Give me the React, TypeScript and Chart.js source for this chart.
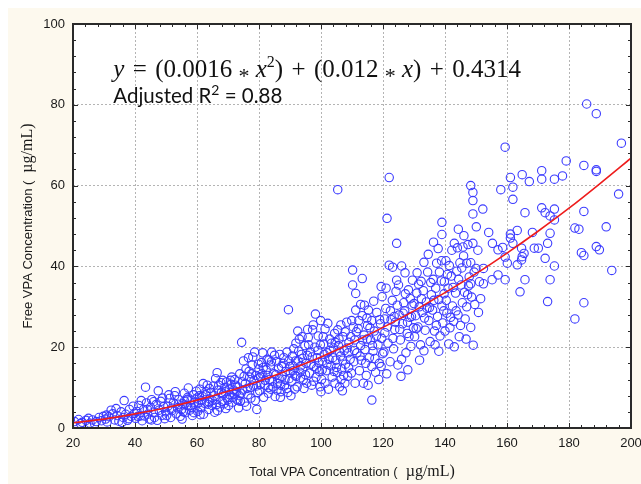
import React, { useEffect, useRef } from "react";
import { Chart, registerables } from "chart.js";
Chart.register(...registerables);

// axis settings
const xMin = 20, xMax = 200, xStep = 20;
const yMin = 0, yMax = 100, yStep = 20;
const minorStep = 4;

// fitted curve
const curveX = [20, 30, 40, 50, 60, 70, 80, 90, 100, 110, 120, 130, 140, 150, 160, 170, 180, 190, 200];
const curveY = [1.3, 2.2, 3.5, 5.0, 6.9, 9.1, 11.6, 14.5, 17.6, 21.1, 24.9, 29.0, 33.5, 38.2, 43.3, 48.7, 54.4, 60.5, 66.8];

// observations [total, free]
const ptsA: number[][] = [
  [20.5,1.6],[21.8,2.1],[23,1.4],[24.2,1.9],[25.5,1.2],[26.3,2.0],[27.5,1.6],[28.4,2.6],[29.2,1.8],[22.4,1.1],[25,2.4],[27,1.0],[29.8,2.9],[30.5,2.2],
  [31,1.5],[31.6,2.8],[32.3,4.4],[32.8,3.5],[33.5,2.0],[34.2,3.1],[34.8,1.7],[35.5,4.0],[36.2,2.6],[36.5,6.8],[37,3.4],[37.6,1.9],[38.2,4.6],[38.8,2.9],[39.4,5.4],[39.8,3.6],[33.9,4.8],[35.8,1.4],[30.8,3.2],[37.9,2.3],
  [40.2,2.4],[40.6,4.1],[41.2,5.6],[41.8,3.0],[42.3,1.8],[42.8,4.6],[43.4,10.1],[43.7,6.2],[44.1,3.4],[44.6,2.2],[45.0,5.1],[45.4,7.0],[45.9,3.9],[46.3,2.6],[46.8,5.8],[47.2,1.9],[47.5,9.2],[47.8,4.4],[48.3,6.6],[48.7,3.1],[49.2,5.3],[49.6,2.3],[44.0,4.6],[46.0,6.5],[41.0,2.9],[43.0,3.0],[48.9,7.4],[49.9,4.0],[45.3,2.0],[42.0,6.8],
];
const ptsB: number[][] = [
  [50.2,3.1],[50.6,5.4],[51.1,7.3],[51.5,2.6],[51.9,4.3],[52.4,6.2],[52.8,8.0],[53.3,3.5],[53.7,5.0],[54.1,7.0],[54.6,2.9],[55.0,4.6],[55.4,6.0],[55.9,8.6],[56.3,3.8],[56.7,5.6],[57.2,9.9],[57.6,4.4],[58.1,6.9],[58.5,3.1],[58.9,8.2],[59.4,5.2],[59.8,9.1],[50.9,8.2],[53.0,9.0],[55.2,2.2],[57.0,7.6],[59.0,3.8],[52.0,4.9],[56.0,6.7],[54.0,5.9],[58.3,5.0],
  [60.2,4.1],[60.5,6.3],[60.9,9.6],[61.3,5.0],[61.7,7.8],[62.1,3.4],[62.5,6.1],[62.9,9.0],[63.3,10.6],[63.7,4.6],[64.1,7.2],[64.5,8.8],[64.9,5.6],[65.3,10.4],[65.7,3.9],[66.1,7.0],[66.5,13.7],[66.9,9.4],[67.3,5.2],[67.7,11.2],[68.1,6.6],[68.5,8.4],[68.9,10.0],[69.3,4.8],[69.7,7.4],[60.8,8.0],[62.0,11.0],[63.5,5.9],[65.0,6.8],[66.6,4.3],[67.0,10.6],[68.7,6.0],[69.5,11.4],[64.0,9.8],[61.0,3.3],[66.0,12.2],
];
const ptsC: number[][] = [
  [70.2,5.6],[70.6,8.2],[71.0,10.8],[71.4,6.4],[71.8,9.4],[72.2,12.0],[72.6,7.2],[73.0,10.2],[73.4,5.0],[73.8,13.4],[74.2,8.6],[74.4,21.2],[74.6,11.4],[75.0,16.6],[75.4,6.4],[75.8,14.6],[76.2,9.8],[76.6,17.4],[77.0,12.6],[77.4,7.4],[77.8,15.6],[78.2,10.4],[78.6,18.8],[79.0,13.0],[79.3,4.6],[79.6,8.8],[75.2,12.8],[76.0,5.4],[77.2,10.0],[78.0,17.6],[79.8,15.8],[70.8,11.8],[72.8,9.0],[74.0,6.6],[76.8,14.0],[78.8,6.8],[71.6,7.6],[73.6,8.0],
  [80.2,9.2],[80.5,12.6],[80.8,16.2],[81.2,18.6],[81.5,7.6],[81.9,10.6],[82.3,14.4],[82.6,17.0],[83.0,8.6],[83.4,12.0],[83.7,15.6],[84.1,18.8],[84.5,10.2],[84.8,13.4],[85.2,7.8],[85.6,16.4],[86.0,11.0],[86.3,14.8],[86.7,18.2],[87.1,9.0],[87.5,12.8],[87.8,16.0],[88.2,10.4],[88.6,14.0],[89.0,18.8],[89.5,29.3],[89.3,8.8],[89.7,12.2],[80.0,14.6],[82.0,11.8],[83.8,9.6],[85.5,13.2],[86.9,7.6],[88.0,17.4],[89.9,15.2],[81.0,13.4],[84.0,16.4],[87.0,10.6],[85.0,18.0],[83.0,10.0],
];
const ptsD: number[][] = [
  [90.3,8.0],[90.6,11.6],[90.9,15.4],[91.2,19.6],[91.6,13.0],[91.9,21.0],[92.3,10.2],[92.6,16.6],[93.0,22.0],[93.4,12.4],[93.7,18.2],[94.1,14.6],[94.5,9.8],[94.8,20.4],[95.2,16.0],[95.4,11.1],[95.9,22.4],[96.3,13.6],[96.6,18.8],[97.0,10.6],[97.3,24.3],[97.5,25.5],[97.7,15.2],[98.0,20.0],[98.2,28.2],[98.4,12.6],[98.8,17.4],[99.1,22.8],[99.5,14.0],[99.9,26.6],[99.7,10.2],[90.8,17.8],[92.0,12.8],[93.5,15.4],[95.0,13.2],[96.0,20.6],[97.6,11.6],[99.0,19.2],[94.0,17.2],[91.5,9.6],
  [100.2,12.0],[100.5,16.6],[100.9,20.8],[101.3,24.5],[101.3,11.1],[101.7,14.2],[102.2,25.9],[102.0,18.6],[102.4,9.6],[102.8,22.0],[103.2,15.4],[103.6,12.6],[104.0,19.8],[104.5,11.1],[104.4,23.4],[104.8,16.8],[105.2,13.8],[105.4,24.3],[105.6,20.4],[106.0,10.2],[106.4,25.5],[106.3,17.8],[106.7,14.6],[107.1,22.6],[107.7,11.1],[107.5,19.2],[107.9,15.8],[108.3,26.2],[108.6,12.8],[109.0,21.2],[109.4,17.0],[109.9,26.6],[109.8,13.6],[100.7,22.6],[102.6,17.0],[104.2,14.0],[105.9,19.0],[107.3,13.0],[108.8,18.6],[103.4,21.0],[106.9,9.2],[100.0,9.0],[105.4,59.0],
];
const ptsE: number[][] = [
  [110.2,39.1],[110.2,35.4],[111.2,33.3],[113.3,37.0],[116.4,6.9],[111.2,29.2],[113.3,27.8],[115.3,29.2],[116.4,26.6],[116.4,15.2],[111.0,11.1],[113.7,11.1],[119.7,32.5],[119.4,35.0],[110.6,16.4],[110.9,21.8],[111.6,18.6],[112.0,24.6],[112.4,14.2],[112.8,20.4],[113.0,16.8],[113.9,23.0],[114.2,19.4],[114.6,13.0],[115.0,25.4],[115.6,17.4],[116.0,21.8],[116.8,19.0],[117.2,24.0],[117.6,13.8],[118.0,28.6],[118.4,20.6],[118.8,16.0],[119.2,25.8],[119.6,22.2],[119.9,18.4],[114.0,30.4],[117.0,31.4],[112.2,26.6],[115.2,10.6],[118.6,12.0],[110.4,25.0],
  [121.2,13.4],[122.0,40.3],[123.1,39.8],[124.4,36.6],[126.0,40.1],[127.1,38.4],[124.4,45.7],[122.0,62.0],[121.3,51.9],[120.3,18.8],[120.6,23.6],[120.9,29.6],[121.6,21.0],[122.3,16.4],[122.6,26.8],[123.0,31.6],[123.4,19.6],[123.8,24.4],[124.2,33.8],[124.8,15.6],[125.2,28.0],[125.6,21.8],[126.3,25.8],[126.7,31.0],[127.4,18.6],[127.8,23.4],[128.2,34.2],[128.6,27.4],[129.0,20.2],[129.4,30.4],[129.8,24.8],[125.0,35.4],[126.0,17.0],[127.0,29.0],[128.0,14.4],[129.5,36.6],[121.0,34.6],[123.6,27.6],[125.8,12.8],[128.8,32.0],
];
const ptsF: number[][] = [
  [133.2,41.0],[137.3,40.8],[138.9,41.4],[139.0,50.9],[139.0,47.9],[132.3,36.3],[136.2,36.8],[136.3,46.0],[133.2,19.1],[130.2,22.6],[130.5,27.8],[130.9,33.4],[131.3,25.0],[131.7,30.0],[132.1,20.6],[132.6,28.6],[133.0,34.0],[133.6,24.2],[134.0,31.2],[134.4,38.6],[134.8,26.6],[135.2,21.4],[135.6,33.0],[136.0,29.2],[136.6,24.0],[137.0,34.6],[137.6,27.6],[138.0,31.8],[138.4,22.8],[138.8,36.4],[139.3,26.0],[139.7,33.2],[131.0,38.4],[134.6,43.0],[137.8,44.4],[135.0,29.8],[138.0,19.0],[131.8,16.8],[136.8,20.6],[139.6,29.0],
  [140.3,41.4],[141.2,20.8],[143.0,20.1],[143.0,45.7],[144.3,49.2],[144.8,40.9],[146.1,47.6],[147.0,40.8],[148.3,40.9],[148.3,35.7],[148.3,24.9],[148.3,60.0],[149.0,58.3],[149.0,56.3],[149.0,53.0],[149.0,45.7],[149.1,20.5],[140.6,28.4],[141.0,34.6],[141.6,24.8],[142.0,37.6],[142.4,30.2],[142.8,26.4],[143.4,33.4],[143.8,38.8],[144.2,28.0],[144.6,22.6],[145.2,35.4],[145.6,31.0],[146.0,42.6],[146.5,27.0],[147.3,33.0],[147.8,37.4],[149.6,30.6],[146.8,22.0],[142.2,44.0],[140.8,38.0],[145.0,25.4],
];
const ptsG: number[][] = [
  [150.1,49.8],[150.0,39.5],[150.8,28.6],[151.1,36.2],[152.2,54.2],[152.4,39.5],[152.4,35.7],[154.1,48.4],[155.2,36.7],[155.3,45.7],[157.1,37.9],[157.1,44.1],[158.0,59.0],[158.6,44.7],[159.4,69.5],[159.4,42.3],[159.4,36.7],[150.6,44.0],[151.5,32.0],
  [160.1,40.8],[161.1,62.0],[161.1,48.0],[161.1,47.0],[161.9,59.6],[161.9,56.6],[161.9,45.7],[163.3,48.9],[163.3,40.4],[164.2,33.7],[164.7,44.5],[164.7,41.6],[164.9,62.7],[164.9,42.4],[165.5,43.2],[165.8,53.3],[165.8,36.7],[167.2,61.0],[168.2,48.4],[168.8,44.5],
  [170.1,44.5],[171.2,63.7],[171.2,61.6],[171.2,54.5],[172.3,53.3],[172.3,42.0],[173.1,45.7],[173.1,31.3],[173.9,52.5],[173.9,48.2],[173.9,36.7],[175.3,61.6],[175.3,54.2],[175.3,51.5],[175.3,40.1],[177.9,62.4],[179.1,66.1],[181.9,49.5],[181.9,27.0],[183.2,49.2],[184.0,43.4],[184.8,65.0],[184.8,53.6],[184.8,42.7],[184.8,31.0],[185.7,80.2],[188.8,77.8],[188.8,63.9],[188.8,63.5],[188.8,44.9],[189.8,44.1],[192.0,49.8],[193.8,39.0],[196.0,57.9],[196.9,70.5],
];
const ptsH: number[][] = [
  [55.6,4.0],[56.9,7.1],[58.0,5.6],[59.2,6.4],[60.0,7.4],[61.5,6.8],[62.8,8.2],[63.9,6.4],[65.6,8.0],[66.3,5.8],[67.9,8.8],[68.3,11.8],[69.0,9.0],[70.0,7.0],[70.4,9.6],[71.2,12.6],[72.0,8.4],[72.4,10.6],[73.2,6.8],[74.8,9.4],[75.6,11.0],[76.4,8.2],[77.6,13.4],[78.4,11.8],[79.2,10.4],[79.9,12.4],
  [80.4,10.8],[81.4,15.0],[82.8,13.0],[83.2,16.8],[84.3,11.6],[85.8,9.4],[86.5,12.2],[87.3,15.2],[88.4,12.0],[88.9,9.8],[89.6,16.6],[90.1,13.8],[91.0,14.2],[91.8,16.6],[92.8,19.0],[93.2,13.8],[94.3,12.0],[95.6,18.0],[96.8,15.8],[97.2,17.6],[98.6,14.8],[99.3,16.2],[99.8,20.6],[93.9,22.6],[95.7,24.4],[92.5,24.0],
  [100.4,14.4],[101.0,18.2],[101.9,15.8],[102.9,19.2],[103.8,17.4],[104.6,21.2],[105.0,15.0],[105.8,22.0],[106.5,12.0],[107.0,16.8],[107.8,23.8],[108.4,19.8],[108.9,15.0],[109.6,22.6],[110.8,19.2],[111.4,23.8],[112.6,17.8],[113.4,21.8],[114.4,16.0],[114.9,22.0],[115.8,24.8],[116.6,20.4],[117.4,17.2],[117.9,22.8],[118.9,26.8],[119.4,15.2],[112.8,30.6],[114.8,27.2],
  [120.5,27.0],[121.4,25.0],[122.4,29.0],[123.2,22.2],[124.0,26.2],[124.6,30.4],[125.4,24.4],[126.5,28.4],[127.2,33.2],[127.9,26.2],[128.4,22.6],[129.2,27.6],[130.0,30.8],[130.7,24.6],[131.5,35.6],[132.4,32.0],[133.4,27.2],[134.2,29.6],[135.4,36.0],[136.4,31.6],[137.2,25.4],[138.2,38.6],[139.0,30.2],[139.8,36.2],[140.4,31.6],[141.4,40.2],[142.6,34.8],[143.6,29.0],[144.4,36.8],[145.4,39.6],[146.3,33.6],[147.0,30.0],[147.6,35.2],[148.6,32.4],[149.4,38.6],[141.8,27.4],[145.8,44.8],[147.4,45.4],[144.0,44.6],[140.0,24.0],
];

const xTitleMain = "Total VPA Concentration (";
const yTitleMain = "Free VPA Concentration (";
const unitText = "  \u00b5g/mL)";

const SANS = "'Liberation Sans', Arial, sans-serif";
const SERIF = "'Liberation Serif', 'Times New Roman', serif";
const HS = "\u200A";

type Run = { t: string; f: string; dy?: number };

function runsWidth(ctx: CanvasRenderingContext2D, runs: Run[]) {
  let w = 0;
  for (const r of runs) { ctx.font = r.f; w += ctx.measureText(r.t).width; }
  return w;
}
function drawRuns(ctx: CanvasRenderingContext2D, x: number, y: number, runs: Run[]) {
  let cx = x;
  for (const r of runs) {
    ctx.font = r.f;
    ctx.fillText(r.t, cx, y + (r.dy || 0));
    cx += ctx.measureText(r.t).width;
  }
}

export default function App() {
  const ref = useRef<HTMLCanvasElement>(null);
  useEffect(() => {
    const canvas = ref.current!;
    const all = [...ptsA, ...ptsB, ...ptsC, ...ptsD, ...ptsE, ...ptsF, ...ptsG, ...ptsH].map(([x, y]) => ({ x, y }));
    const curve = curveX.map((x, i) => ({ x, y: curveY[i] }));

    const deco = {
      id: "deco",
      beforeDraw(chart: any) {
        const { ctx, chartArea: a } = chart;
        ctx.save();
        ctx.fillStyle = "#ffffff";
        ctx.fillRect(a.left, a.top, a.right - a.left, a.bottom - a.top);
        ctx.restore();
      },
      afterDraw(chart: any) {
        const { ctx, chartArea: a } = chart;
        const xs = chart.scales.x, ys = chart.scales.y;
        ctx.save();
        // frame
        ctx.strokeStyle = "#2a2a2a";
        ctx.lineWidth = 2;
        ctx.strokeRect(a.left, a.top, a.right - a.left, a.bottom - a.top);
        // inward ticks
        ctx.lineWidth = 1;
        ctx.beginPath();
        for (let v = xMin; v <= xMax; v += minorStep) {
          const p = Math.round(xs.getPixelForValue(v)) + 0.5;
          const len = (v - xMin) % xStep === 0 ? 5 : 3;
          ctx.moveTo(p, a.bottom); ctx.lineTo(p, a.bottom - len);
          ctx.moveTo(p, a.top); ctx.lineTo(p, a.top + len);
        }
        for (let v = yMin; v <= yMax; v += minorStep) {
          const p = Math.round(ys.getPixelForValue(v)) + 0.5;
          const len = (v - yMin) % yStep === 0 ? 5 : 3;
          ctx.moveTo(a.left, p); ctx.lineTo(a.left + len, p);
          ctx.moveTo(a.right, p); ctx.lineTo(a.right - len, p);
        }
        ctx.stroke();

        ctx.fillStyle = "#1a1a1a";
        ctx.textBaseline = "alphabetic";
        ctx.textAlign = "left";
        // x title
        const xr: Run[] = [{ t: xTitleMain, f: `13px ${SANS}` }, { t: unitText, f: `16px ${SERIF}` }];
        const xw = runsWidth(ctx, xr);
        drawRuns(ctx, (a.left + a.right) / 2 - xw / 2, 468, xr);
        // y title
        const yr: Run[] = [{ t: yTitleMain, f: `13px ${SANS}` }, { t: unitText, f: `16px ${SERIF}` }];
        const yw = runsWidth(ctx, yr);
        ctx.save();
        ctx.translate(24, (a.top + a.bottom) / 2);
        ctx.rotate(-Math.PI / 2);
        drawRuns(ctx, -yw / 2, 0, yr);
        ctx.restore();

        // equation
        ctx.fillStyle = "#111";
        const ex = xs.getPixelForValue(33);
        const ey = ys.getPixelForValue(86.9);
        const n = `25px ${SERIF}`, it = `italic 25px ${SERIF}`, op = `22px ${SERIF}`;
        drawRuns(ctx, ex, ey, [
          { t: "y", f: it }, { t: ` ${HS}=${HS} (0.0016 `, f: n }, { t: "*", f: op, dy: 6 }, { t: " ", f: n }, { t: "x", f: it }, { t: "2", f: `16px ${SERIF}`, dy: -10 },
          { t: `) ${HS}+${HS} (0.012 `, f: n }, { t: "*", f: op, dy: 6 }, { t: " ", f: n }, { t: "x", f: it }, { t: `) ${HS}+${HS} 0.4314`, f: n },
        ]);
        const rx = xs.getPixelForValue(33);
        const ry = ys.getPixelForValue(80.5);
        drawRuns(ctx, rx, ry, [
          { t: "Adjusted R", f: "20.5px Lato, sans-serif" }, { t: "2", f: "14px Lato, sans-serif", dy: -8 }, { t: " = 0.88", f: "20.5px Lato, sans-serif" },
        ]);
        ctx.restore();
      },
    };

    const chart = new Chart(canvas, {
      type: "scatter",
      data: {
        datasets: [
          {
            type: "line",
            data: curve,
            borderColor: "#ee1c1c",
            borderWidth: 1.6,
            pointRadius: 0,
            fill: false,
            cubicInterpolationMode: "monotone",
            order: 0,
          } as any,
          {
            data: all,
            pointStyle: "circle",
            pointRadius: 4.2,
            borderWidth: 1.1,
            borderColor: "#3b3bff",
            backgroundColor: "rgba(0,0,0,0)",
            order: 1,
          },
        ],
      },
      options: {
        animation: false,
        responsive: false,
        layout: { padding: { left: 0, top: 16, right: 10, bottom: 0 } },
        plugins: { legend: { display: false }, tooltip: { enabled: false } },
        scales: {
          x: {
            type: "linear",
            min: xMin,
            max: xMax,
            afterFit: (s: any) => { s.height = 56; s.paddingLeft = 0; s.paddingRight = 0; },
            ticks: { stepSize: xStep, padding: 8, color: "#1a1a1a", font: { family: SANS, size: 13 } },
            grid: { color: "#b4b4b4", lineWidth: 1, drawTicks: false },
            border: { display: false, dash: [2, 2] },
          },
          y: {
            type: "linear",
            min: yMin,
            max: yMax,
            afterFit: (s: any) => { s.width = 65; s.paddingTop = 0; s.paddingBottom = 0; },
            ticks: { stepSize: yStep, padding: 8, color: "#1a1a1a", font: { family: SANS, size: 13 } },
            grid: { color: "#b4b4b4", lineWidth: 1, drawTicks: false },
            border: { display: false, dash: [2, 2] },
          },
        },
      },
      plugins: [deco],
    } as any);
    return () => chart.destroy();
  }, []);
  return (
    <div style={{ position: "fixed", left: 8, top: 8, width: 633, height: 476, background: "#fdf9ee" }}>
      <canvas ref={ref} width={633} height={476} style={{ display: "block" }} />
    </div>
  );
}
